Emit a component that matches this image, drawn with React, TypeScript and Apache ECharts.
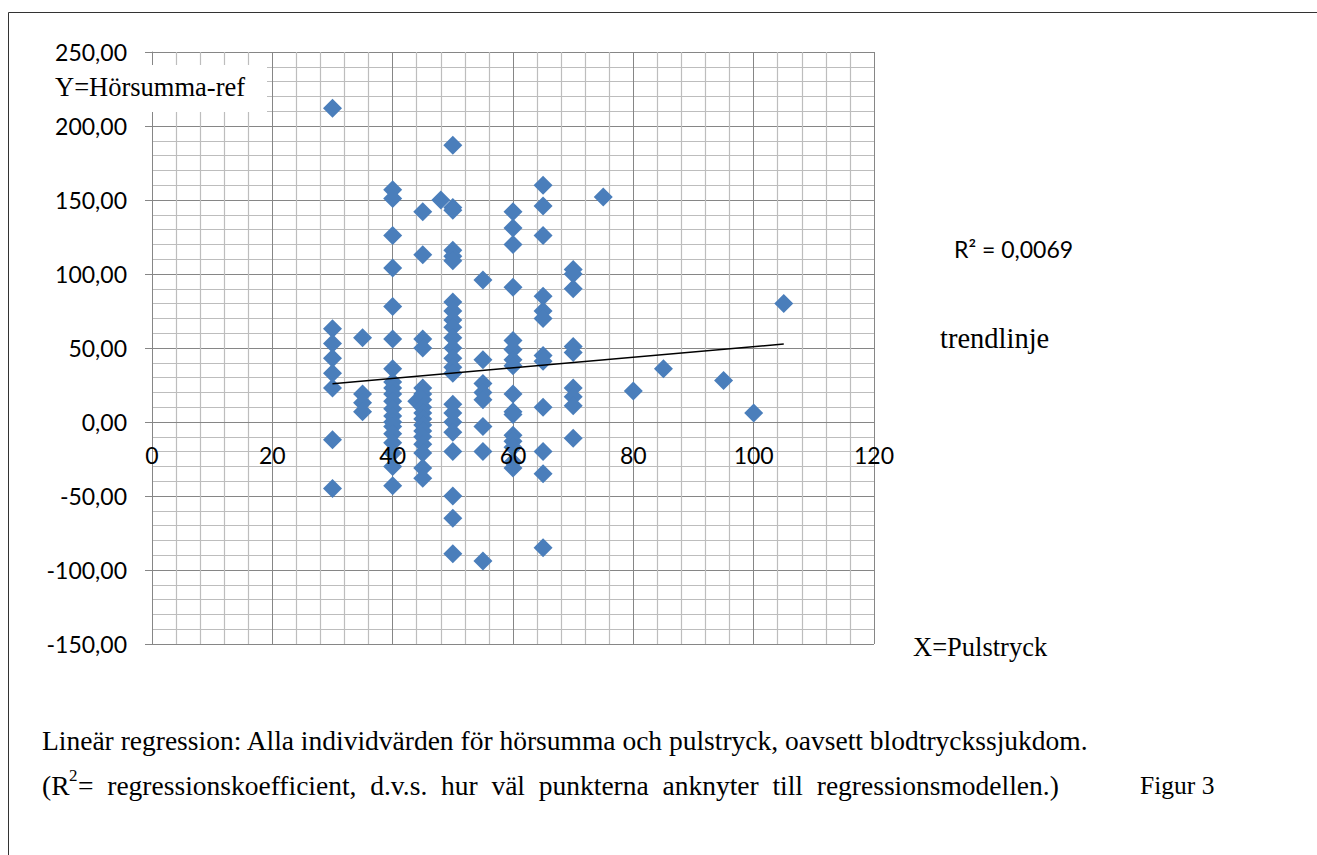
import React, { useEffect, useRef } from "react";
import * as echarts from "echarts";

// Hörsumma-ref values per pulstryck (pulse pressure) group
const y30 = [212, 63, 53, 43, 33, 23, -12, -45];
const y35 = [57, 19, 13, 7];
const y40 = [157, 151, 126, 104, 78, 56, 36, 27, 23, 19, 14, 9, 4, 0, -3, -8, -14, -21, -30, -43];
const y44 = [14];
const y45 = [142, 113, 56, 50, 23, 19, 15, 10, 6, 2, -2, -6, -10, -15, -21, -31, -38];
const y48 = [150];
const y50 = [187, 145, 143, 116, 112, 109, 81, 75, 69, 64, 57, 50, 43, 37, 33, 12, 6, 0, -7, -20, -50, -65, -89];
const y55 = [96, 42, 26, 20, 15, -3, -20, -94];
const y60 = [142, 131, 120, 91, 55, 49, 42, 38, 19, 7, 5, -9, -13, -17, -27, -31];
const y65 = [160, 146, 126, 85, 75, 70, 45, 41, 10, -20, -35, -85];
const y70 = [103, 100, 90, 51, 47, 23, 17, 11, -11];
const y75 = [152];
const y80 = [21];
const y85 = [36];
const y95 = [28];
const y100 = [6];
const y105 = [80];

const groups: [number, number[]][] = [
  [30, y30], [35, y35], [40, y40], [44, y44], [45, y45], [48, y48], [50, y50],
  [55, y55], [60, y60], [65, y65], [70, y70], [75, y75], [80, y80], [85, y85],
  [95, y95], [100, y100], [105, y105],
];

// Trend line end points
const trendX = [30, 105];
const trendY = [25.9, 52.7];

const xTicks = { min: 0, max: 120, interval: 20 };
const yTicks = { min: -150, max: 250, interval: 50 };

const captionLine1 = "Lineär regression: Alla individvärden för hörsumma och pulstryck, oavsett blodtryckssjukdom.";
const captionLine2Words = ["=", "regressionskoefficient,", "d.v.s.", "hur", "väl", "punkterna", "anknyter", "till", "regressionsmodellen.)"];

export default function App() {
  const ref = useRef<HTMLDivElement>(null);
  useEffect(() => {
    const chart = echarts.init(ref.current!, null, { renderer: "svg" });
    const points: number[][] = [];
    groups.forEach(([x, ys]) => ys.forEach((y) => points.push([x, y])));
    const serif = '"Liberation Serif", "Times New Roman", serif';
    const sans = 'Lato, "Open Sans", sans-serif';
    const gridTop = 52;
    const gridHeight = 592;
    // x axis crosses the y axis at value 0
    const zeroOffset = -gridHeight * (0 - yTicks.min) / (yTicks.max - yTicks.min);
    const xBase = {
      type: "value",
      min: xTicks.min,
      max: xTicks.max,
      interval: xTicks.interval,
      position: "bottom",
      offset: zeroOffset,
    };
    chart.setOption({
      animation: false,
      backgroundColor: "#ffffff",
      grid: { left: 152, top: gridTop, width: 722, height: gridHeight, containLabel: false },
      xAxis: [
        {
          ...xBase,
          z: 0,
          axisLine: { show: true, onZero: false, lineStyle: { color: "#868686", width: 1 } },
          axisTick: { show: false },
          minorTick: { show: false, splitNumber: 5 },
          splitLine: { show: true, lineStyle: { color: "#868686", width: 1 } },
          minorSplitLine: { show: true, lineStyle: { color: "#bdbdbd", width: 1.2 } },
          axisLabel: { show: false },
        },
        {
          ...xBase,
          z: 20,
          axisLine: { show: false, onZero: false },
          axisTick: { show: false },
          splitLine: { show: false },
          axisLabel: { color: "#000", fontFamily: sans, fontSize: 23, margin: 21 },
        },
      ],
      yAxis: {
        type: "value",
        min: yTicks.min,
        max: yTicks.max,
        interval: yTicks.interval,
        axisLine: { show: true, onZero: false, lineStyle: { color: "#868686", width: 1 } },
        axisTick: { show: true, length: 7, lineStyle: { color: "#868686" } },
        minorTick: { show: false, splitNumber: 5 },
        splitLine: { show: true, lineStyle: { color: "#868686", width: 1 } },
        minorSplitLine: { show: true, lineStyle: { color: "#bdbdbd", width: 1.2 } },
        axisLabel: {
          color: "#000",
          fontFamily: sans,
          fontSize: 23,
          margin: 25,
          formatter: (v: number) => v.toFixed(2).replace(".", ","),
        },
      },
      series: [
        {
          type: "scatter",
          xAxisIndex: 0,
          data: points,
          symbol: "diamond",
          symbolSize: 19,
          itemStyle: { color: "#4A7EBB", opacity: 1 },
          z: 3,
        },
        {
          type: "line",
          xAxisIndex: 0,
          data: trendX.map((x, i) => [x, trendY[i]]),
          symbol: "none",
          lineStyle: { color: "#000", width: 1.5 },
          z: 4,
        },
      ],
      graphic: [
        {
          type: "rect",
          z: 100,
          shape: { x: 8.5, y: 12.5, width: 1400, height: 900 },
          style: { fill: "none", stroke: "#333", lineWidth: 1 },
        },
        {
          type: "rect",
          z: 100,
          shape: { x: 140, y: 65, width: 127, height: 47 },
          style: { fill: "#fff" },
        },
        {
          type: "text", z: 101, x: 55, y: 87,
          style: { text: "Y=Hörsumma-ref", fontFamily: serif, fontSize: 26.5, fill: "#000", verticalAlign: "middle" },
        },
        {
          type: "text", z: 101, x: 954, y: 249,
          style: { text: "R² = 0,0069", fontFamily: sans, fontSize: 23, fill: "#000", verticalAlign: "middle" },
        },
        {
          type: "text", z: 101, x: 940, y: 338,
          style: { text: "trendlinje", fontFamily: serif, fontSize: 28.5, fill: "#000", verticalAlign: "middle" },
        },
        {
          type: "text", z: 101, x: 913, y: 647,
          style: { text: "X=Pulstryck", fontFamily: serif, fontSize: 26.5, fill: "#000", verticalAlign: "middle" },
        },
        {
          type: "text", z: 101, x: 42, y: 740,
          style: { text: captionLine1, fontFamily: serif, fontSize: 27.5, fill: "#000", verticalAlign: "middle" },
        },
        {
          type: "text", z: 101, x: 42, y: 785,
          style: { text: "(R", fontFamily: serif, fontSize: 27.5, fill: "#000", verticalAlign: "middle" },
        },
        {
          type: "text", z: 101, x: 69, y: 775,
          style: { text: "2", fontFamily: serif, fontSize: 17, fill: "#000", verticalAlign: "middle" },
        },
        {
          type: "text", z: 101, x: 78, y: 785,
          style: { text: captionLine2Words.join("\u2002"), fontFamily: serif, fontSize: 27.5, fill: "#000", verticalAlign: "middle" },
        },
        {
          type: "text", z: 101, x: 1140, y: 785,
          style: { text: "Figur 3", fontFamily: serif, fontSize: 25.5, fill: "#000", verticalAlign: "middle" },
        },
      ],
    });
    return () => chart.dispose();
  }, []);
  return (
    <div
      ref={ref}
      style={{ position: "absolute", left: 0, top: 0, width: 1317, height: 855, background: "#fff" }}
    />
  );
}
